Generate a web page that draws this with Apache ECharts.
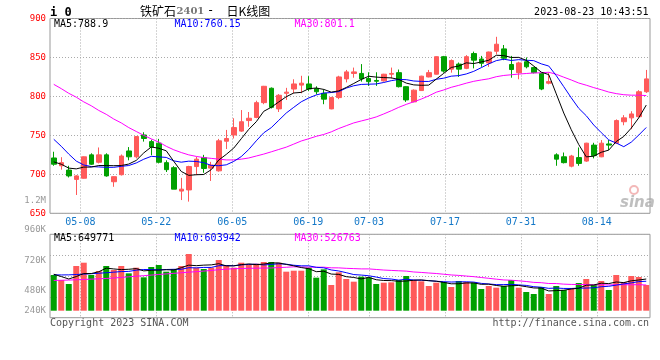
<!DOCTYPE html>
<html><head><meta charset="utf-8">
<script src="https://cdn.jsdelivr.net/npm/echarts@6/dist/echarts.min.js"></script>
<style>html,body{margin:0;padding:0;background:#fff}#c{width:660px;height:360px}</style>
</head><body><div id="c"></div>
<script>
// ---- data ----
const dates = ['04-27','04-28','05-04','05-05','05-08','05-09','05-10','05-11','05-12','05-15','05-16','05-17','05-18','05-19','05-22','05-23','05-24','05-25','05-26','05-29','05-30','05-31',
'06-01','06-02','06-05','06-06','06-07','06-08','06-09','06-12','06-13','06-14','06-15','06-16','06-19','06-20','06-21','06-26','06-27','06-28','06-29','06-30',
'07-03','07-04','07-05','07-06','07-07','07-10','07-11','07-12','07-13','07-14','07-17','07-18','07-19','07-20','07-21','07-24','07-25','07-26','07-27','07-28','07-31',
'08-01','08-02','08-03','08-04','08-07','08-08','08-09','08-10','08-11','08-14','08-15','08-16','08-17','08-18','08-21','08-22','08-23'];
const opens = [721,711,705.5,693.5,695,725,715.5,725,690.5,699.5, 730,722.5,750.5,742,740,715,708.5,678.5,680,710, 721.5,708,704.5,742.5,750.5,755.5,769,773,792,810.5, 784,804,809.5,814.5,816,810,804,784,798.5,822.5, 829.5,829.5,823,820.5,820,828.5,830.5,812.5,793,807.5, 825,828.5,851,835,841.5,836,855,848,843,858, 861,841,830.5,844.5,837,829.5,817,725,722.5,710.5, 721.5,717,737.5,722.5,739,740,767.5,772.5,774,806];
const closes = [713,715,698,698,722.5,713,725,698,697,723.5, 722.5,748.5,746,735,715.5,706,681,681,710,719.5, 707.5,712,743,746,760,767.5,772,792,813,786, 801.5,805.5,816,817,809.5,806,796.5,798.5,825,831.5, 831.5,822.5,819,819.5,828.5,829.5,812.5,795.5,808,826, 830.5,851,832.5,846,835,851,846.5,842.5,857,867, 849,834.5,843,838,830.5,809.5,819,719.5,715,723.5, 714,740,724,740,737.5,769,772.5,777.5,806,822.5];
const lows = [711,706,696,673.5,694.5,712,714,697,684,698.5, 718,720.5,742,724.5,714,703,681,667,665,699, 702,691.5,703.5,732.5,746,754.5,761,772,790,784.5, 780,795.5,804,804,807,802.5,790,783.5,796.5,818, 824,819,813.5,813.5,819,823,811.5,793,792.5,807, 824.5,828,830.5,830.5,825,835,836,838,838,854, 846.5,824,822,836,829.5,808,815.5,711,714,709, 711,716,720.5,722,731,739,763,758,773,804.5];
const highs = [729,722,711,699,723,727,734.5,727,697.5,725.5, 735,749,754,744.5,745.5,718,710.5,695.5,711,722.5, 725,716,745.5,757,772,782.5,780,794.5,813.5,811.5, 803,811,822,826.5,826,813,809,799.5,826.5,834, 837,841.5,831,831,829,837,834.5,813,809,826.5, 834,851.5,852,847.5,843.5,853,857.5,852,857.5,876.5, 866,852,844.5,850,838,830,830.5,727,728,725, 734.5,740.5,740.5,744,744,770.5,776,781,808,834];
const ma5 = [716,713,708,707, 709.3,709.3,711.3,711.3,711.1,711.3, 713.2,717.9,727.5,735.1,733.5,730.2,716.7,703.7,698.7,699.5, 699.8,706,718.4,725.6,733.7,745.7,757.7,767.5,780.9,786.1, 792.9,799.6,804.4,805.2,809.9,810.8,809,805.5,807.1,811.5, 816.6,821.8,825.9,824.8,824.2,823.8,821.8,817.1,814.8,814.3, 814.5,822.2,829.6,837.2,839,843.1,842.2,844.2,846.4,852.8, 852.4,850,850.1,846.3,839,831.1,828,803.3,778.7,757.3, 738.2,722.4,723.3,728.3,731.1,742.1,748.6,759.3,772.5,788.9];
const ma10 = [745,736,726,717,712,710,709.5,709,709,710.3, 711.3,714.6,719.4,723.1,722.4,721.7,717.3,715.6,716.9,716.5, 715,711.4,711.1,712.2,716.6,722.8,731.9,743,753.3,759.9, 769.3,778.7,786,793.1,798,801.9,804.3,805,806.2,810.7, 813.7,815.4,815.7,816,817.9,820.2,821.8,821.5,819.8,819.3, 819.2,822,823.4,826,826.7,828.8,832.2,836.9,841.8,845.9, 847.8,846.1,847.2,846.4,845.9,841.8,839,826.7,812.5,798.2, 784.7,775.2,763.3,753.5,744.2,740.2,735.5,741.3,750.4,760.15];
const ma30 = [815.5,810,804,799,793,788,782,777,771,766, 760,755,750,745.5,741.5,736,731.5,728,725,723, 721.5,720.5,719.5,718.5,718.5,719.5,721,723.5,726,728.9, 731.9,734.9,738.8,742.8,745.7,748.8,751.2,754.5,758.8,762.4, 766,768.5,770.9,773.7,777.5,781.6,786,789.8,793.1,796.6, 800.7,805.4,808.3,811.7,814.2,817,819.4,821.1,822.6,825.3, 826.9,827.8,828.7,829.4,830.1,830.3,831,828.4,824.7,821.1, 817.2,814.4,811.3,808.6,805.6,803.6,802.2,801.6,801.6,801.1];
// volume in thousands of lots
const volumeK = [732,629,547,916,984,732,814,916,834,916, 766,882,684,896,937,800,855,916,1162,882, 855,882,1039,937,882,984,951,964,998,998, 984,800,820,820,882,677,848,527,787,650, 595,697,684,547,574,581,629,711,629,602, 506,574,588,486,609,588,574,445,506,472, 506,629,472,383,342,486,342,506,424,465, 568,650,527,609,424,732,588,711,691,527];
const volMa5K = [748,700,650,700, 761.6,761.6,798.6,872.4,856,842.4, 849.2,862.8,816.4,828.8,833,839.8,834.4,880.8,934,923, 934,939.4,964,919,919,944.8,958.6,943.6,955.8,979, 979,948.8,920,884.4,861.2,799.8,809.4,750.8,744.2,697.8, 681.4,651.2,682.6,634.6,619.4,616.6,603,608.4,624.8,630.4, 615.4,604.4,579.8,551.2,552.6,569,569,540.4,544.4,517, 500.6,511.6,517,492.4,466.4,462.4,405,411.8,420,444.6, 461,522.6,526.8,563.8,555.6,588.4,576,612.8,629.2,649.8];
const volMa10K = [735,733,735,742,750,758,768,778,790,802, 805.4,830.7,844.4,842.4,837.7,844.5,848.6,848.6,881.4,878, 886.9,886.9,922.4,926.5,921,939.4,949,953.8,937.4,949, 961.9,953.7,931.8,920.1,920.1,889.4,879.1,835.4,814.3,779.5, 740.6,730.3,716.7,689.4,658.6,649,627.1,645.5,629.7,624.9, 616,603.7,594.1,588,591.5,592.2,586.7,560.1,547.8,534.8, 534.8,540.3,528.7,518.4,491.7,481.5,458.3,464.4,456.2,455.5, 461.7,463.8,469.3,491.9,500.1,524.7,549.3,569.8,596.5,603.9];
const volMa30K = [620,624,628,634,640,647,654,661,670,682, 695,707,718,730,742,754,766,778,790,800, 812,825,840,852,860,865,869,872,874,876.3, 884.7,890.4,899.5,896.3,892.9,891.1,892.2,879.3,877.7,868.8, 863.1,857,857,845.3,833.2,825.9,818.4,811.6,793.8,784.5, 772.8,762.6,747.5,732.5,723.4,710.2,697.6,680.3,663.9,646.4, 630.5,624.8,613.2,598.6,580.6,574.2,557.4,556.7,544.6,538.4, 537.5,535.9,530.7,532.8,527.8,532.8,531.4,531.4,533.5,526.8];
const dateTickLabels = ['05-08','05-22','06-05','06-19','07-03','07-17','07-31','08-14'];
const volTickLabels = ['960K','720K','480K','240K'];
const volTopLabel = '1.2M';
const priceMALabels = ['MA5:788.9','MA10:760.15','MA30:801.1'];
const volMALabels = ['MA5:649771','MA10:603942','MA30:526763'];
const titleParts = ['i 0','铁矿石','2401','-','日K线图'];
const stampText = '2023-08-23 10:43:51';
const footLeft = 'Copyright 2023 SINA.COM';
const footRight = 'http://finance.sina.com.cn';

// ---- rendering ----
const mono = '"DejaVu Sans Mono", monospace';
const cjk = '"Noto Sans CJK SC", sans-serif';
const UP = '#FF5A5A', DOWN = '#00A000';
const GRIDC = '#aaaaaa';
const candleData = dates.map((d, i) => [opens[i], closes[i], lows[i], highs[i]]);
const volData = volumeK.map((v, i) => ({ value: v, itemStyle: { color: closes[i] >= opens[i] ? UP : DOWN } }));
const isTick = (i, v) => dateTickLabels.indexOf(v) >= 0;
const maColors = ['#000000', '#0000FF', '#FF00FF'];
const maX = [54, 174.5, 294.5];

function txt(text, x, y, font, fill, align) {
  return { type: 'text', silent: true, z: 100,
    style: { text: text, x: x, y: y, font: font, fill: fill,
      align: align || 'left', textAlign: align || 'left', verticalAlign: 'middle', textVerticalAlign: 'middle' } };
}
const graphics = [];
graphics.push(txt(titleParts[0], 50, 12.5, 'bold 12px ' + mono, '#000'));
graphics.push(txt(titleParts[1], 140, 11, '12px ' + cjk, '#000'));
graphics.push(txt(titleParts[2], 176.5, 11.5, 'bold 10px "DejaVu Serif", serif', '#777'));
graphics.push(txt(titleParts[3], 207, 11, '12px ' + mono, '#000'));
graphics.push(txt(titleParts[4], 226.5, 11, '12px ' + cjk, '#000'));
graphics.push(txt(stampText, 648.5, 12.5, '10px ' + mono, '#000', 'right'));
priceMALabels.forEach((t, k) => graphics.push(txt(t, maX[k], 24.5, '10px ' + mono, maColors[k])));
volMALabels.forEach((t, k) => graphics.push(txt(t, maX[k], 238.5, '10px ' + mono, maColors[k])));
const volLabelY = [230, 261, 290.8, 310.5];
volTickLabels.forEach((t, k) => graphics.push(txt(t, 46, volLabelY[k], '9px ' + mono, '#999', 'right')));
graphics.push(txt(volTopLabel, 46, 201, '9px ' + mono, '#999', 'right'));
graphics.push(txt(footLeft, 50, 323.5, '10px ' + mono, '#555'));
graphics.push(txt(footRight, 649, 323.5, '10px ' + mono, '#555', 'right'));
graphics.push({ type: 'circle', silent: true, z: 1, shape: { cx: 634, cy: 190, r: 4 }, style: { fill: 'none', stroke: '#f3b8b8', lineWidth: 2 } });
graphics.push(txt('sina', 620, 203, 'italic bold 15px "DejaVu Sans", sans-serif', 'rgba(170,170,170,0.75)'));

const splitDotted = { show: true, lineStyle: { color: GRIDC, width: 1, type: [1, 2] } };

const option = {
  animation: false,
  backgroundColor: '#fff',
  grid: [
    { left: 50, right: 10, top: 18.5, height: 194.8, show: true, borderColor: '#999', borderWidth: 1, backgroundColor: 'transparent' },
    { left: 50, right: 10, top: 234.3, height: 83.4, show: true, borderColor: '#999', borderWidth: 1, backgroundColor: 'transparent' }
  ],
  xAxis: [
    { type: 'category', gridIndex: 0, data: dates, boundaryGap: true, show: false },
    { type: 'category', gridIndex: 0, data: dates, boundaryGap: false, position: 'bottom',
      axisLine: { show: false }, axisTick: { show: false },
      axisLabel: { interval: isTick, color: '#1478C8', fontFamily: mono, fontSize: 10, margin: 4 },
      splitLine: Object.assign({ interval: isTick }, splitDotted) },
    { type: 'category', gridIndex: 1, data: dates, boundaryGap: true, show: false },
    { type: 'category', gridIndex: 1, data: dates, boundaryGap: false, position: 'bottom',
      axisLine: { show: false }, axisTick: { show: false }, axisLabel: { show: false },
      splitLine: Object.assign({ interval: isTick }, splitDotted) }
  ],
  yAxis: [
    { type: 'value', gridIndex: 0, min: 650, max: 900, interval: 50,
      axisLine: { show: false }, axisTick: { show: false },
      axisLabel: { color: '#FF0000', fontFamily: mono, fontSize: 9, margin: 4, padding: [0, 0, 3, 0] },
      splitLine: splitDotted },
    { type: 'value', gridIndex: 1, min: -143.5, max: 1566.2, show: false, splitLine: { show: false } },
    { type: 'value', gridIndex: 1, min: 0, max: 4, interval: 1, position: 'left',
      axisLine: { show: false }, axisTick: { show: false }, axisLabel: { show: false },
      splitLine: splitDotted }
  ],
  series: [
    { type: 'candlestick', xAxisIndex: 0, yAxisIndex: 0, data: candleData, barWidth: 5,
      itemStyle: { color: UP, color0: DOWN, borderColor: UP, borderColor0: DOWN, borderWidth: 1 } },
    { type: 'line', xAxisIndex: 0, yAxisIndex: 0, data: ma30, symbol: 'none', silent: true, lineStyle: { color: maColors[2], width: 1 }, z: 3 },
    { type: 'line', xAxisIndex: 0, yAxisIndex: 0, data: ma10, symbol: 'none', silent: true, lineStyle: { color: maColors[1], width: 1 }, z: 3 },
    { type: 'line', xAxisIndex: 0, yAxisIndex: 0, data: ma5, symbol: 'none', silent: true, lineStyle: { color: maColors[0], width: 1 }, z: 3 },
    { type: 'bar', xAxisIndex: 2, yAxisIndex: 1, data: volData, barWidth: 6 },
    { type: 'line', xAxisIndex: 2, yAxisIndex: 1, data: volMa30K, symbol: 'none', silent: true, lineStyle: { color: maColors[2], width: 1 }, z: 3 },
    { type: 'line', xAxisIndex: 2, yAxisIndex: 1, data: volMa10K, symbol: 'none', silent: true, lineStyle: { color: maColors[1], width: 1 }, z: 3 },
    { type: 'line', xAxisIndex: 2, yAxisIndex: 1, data: volMa5K, symbol: 'none', silent: true, lineStyle: { color: maColors[0], width: 1 }, z: 3 }
  ],
  graphic: graphics
};
const chart = echarts.init(document.getElementById('c'), null, { renderer: 'canvas', width: 660, height: 360 });
chart.setOption(option);
</script>
</body></html>
